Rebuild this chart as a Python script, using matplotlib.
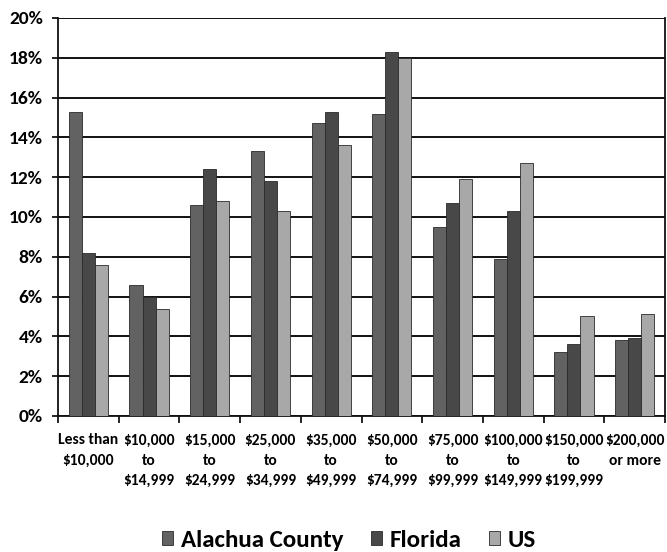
import matplotlib
matplotlib.use("Agg")
import matplotlib.pyplot as plt
import numpy as np

FONT = ["Carlito", "Roboto Condensed", "DejaVu Sans"]
plt.rcParams["font.family"] = FONT

categories = ["Less than\n$10,000", "$10,000\nto\n$14,999", "$15,000\nto\n$24,999",
              "$25,000\nto\n$34,999", "$35,000\nto\n$49,999", "$50,000\nto\n$74,999",
              "$75,000\nto\n$99,999", "$100,000\nto\n$149,999", "$150,000\nto\n$199,999",
              "$200,000\nor more"]
alachua = [15.3, 6.6, 10.6, 13.3, 14.7, 15.2, 9.5, 7.9, 3.2, 3.8]
florida = [8.2, 6.0, 12.4, 11.8, 15.3, 18.3, 10.7, 10.3, 3.6, 3.9]
us = [7.6, 5.4, 10.8, 10.3, 13.6, 18.0, 11.9, 12.7, 5.0, 5.1]
series_names = ["Alachua County", "Florida", "US"]
yticks = [0, 2, 4, 6, 8, 10, 12, 14, 16, 18, 20]

colors = ["#626262", "#484848", "#a8a8a8"]

fig = plt.figure(figsize=(6.67, 5.52), dpi=100)
ax = fig.add_axes([0.087, 0.2464, 0.910, 0.7210])

x = np.arange(len(categories))
w = 0.215
for i, (vals, c) in enumerate(zip([alachua, florida, us], colors)):
    ax.bar(x + (i - 1) * w, vals, w, color=c, edgecolor="#2a2a2a", linewidth=0.6,
           label=series_names[i], zorder=3)

ax.set_xlim(-0.5, len(categories) - 0.5)
ax.set_ylim(0, 20)
ax.set_yticks(yticks)
ax.set_yticklabels([f"{v}%" for v in yticks], fontsize=14, fontweight="bold")
ax.yaxis.grid(True, color="#111111", linewidth=1.4, zorder=0)
ax.set_axisbelow(True)

ax.set_xticks(x)
ax.set_xticklabels(categories, fontsize=11.2, fontweight="bold",
                   linespacing=1.58, va="top")
ax.set_xticks(np.arange(-0.5, len(categories), 1.0), minor=True)
ax.tick_params(axis="x", which="major", length=0, pad=12.5)
ax.tick_params(axis="x", which="minor", length=5, width=1.2, direction="out")
ax.tick_params(axis="y", length=4.5, width=1.2, direction="out", pad=6.5)

for side in ["left", "bottom", "right"]:
    ax.spines[side].set_color("#111111")
    ax.spines[side].set_linewidth(1.3)
ax.spines["top"].set_visible(False)

fig.legend(loc="center", bbox_to_anchor=(0.523, 0.021), ncol=3, frameon=False,
           prop={"weight": "bold", "size": 18},
           handlelength=0.45, handleheight=0.45, handletextpad=0.3,
           columnspacing=1.1)

fig.savefig("out.png", dpi=100)
